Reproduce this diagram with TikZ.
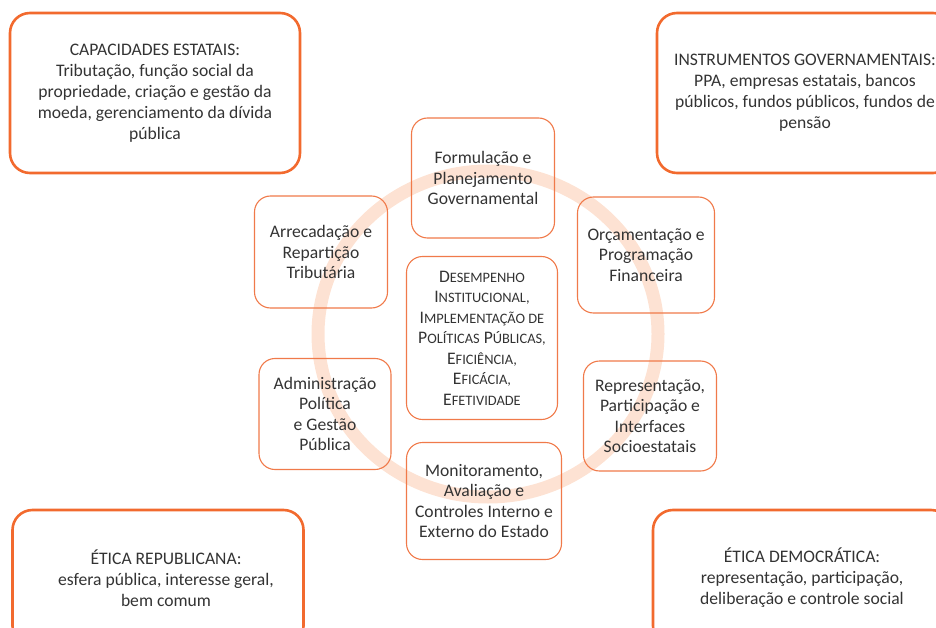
\documentclass[tikz,border=0pt]{standalone}
\usepackage{fontspec}
\setmainfont{Carlito}
\definecolor{rimorange}{HTML}{F26A2E}
\definecolor{boxorange}{HTML}{F07A4A}
\definecolor{ringpeach}{HTML}{FDE2D3}
\definecolor{txtgray}{HTML}{333333}
\newcommand\fsc[2]{{\fontsize{17.6}{20.8}\selectfont #1}{\fontsize{14.4}{16}\selectfont #2}}
\begin{document}
\begin{tikzpicture}[x=1pt,y=-1pt,
  outerbox/.style={draw=rimorange, line width=2.6pt, rounded corners=20pt},
  bodytext/.style={align=center, text=txtgray, font=\fontsize{17.6}{21}\selectfont},
  innerbox/.style={draw=boxorange, line width=1.1pt, rounded corners=16pt,
    align=center, text=txtgray, font=\fontsize{17.6}{20.5}\selectfont},
  ring/.style={draw=ringpeach, line width=13pt}]
\useasboundingbox (0,0) rectangle (936,628);
\draw [ring] (488,334) ellipse [x radius=170pt, y radius=163pt];
% four corners
\node [outerbox, bodytext, minimum width=290pt, minimum height=160pt] (capac) at (155,93)
  {CAPACIDADES ESTATAIS:\\Tributação, função social da\\propriedade, criação e gestão da\\moeda, gerenciamento da dívida\\pública};
\node [outerbox, bodytext, minimum width=296pt, minimum height=160pt] (instr) at (805,93)
  {INSTRUMENTOS GOVERNAMENTAIS:\\PPA, empresas estatais, bancos\\públicos, fundos públicos, fundos de\\pensão};
\node [outerbox, minimum width=291pt, minimum height=136pt] (repubbox) at (158,578) {};
\node [bodytext] (repub) at (166,578)
  {ÉTICA REPUBLICANA:\\esfera pública, interesse geral,\\bem comum};
\node [outerbox, bodytext, minimum width=298pt, minimum height=136pt] (democ) at (802,578)
  {ÉTICA DEMOCRÁTICA:\\representação, participação,\\deliberação e controle social};
% ring of functions
\node [innerbox, minimum width=143pt, minimum height=120pt] (formul) at (483,178)
  {Formulação e\\Planejamento\\Governamental};
\node [innerbox, minimum width=133pt, minimum height=112pt] (arrec) at (321,252)
  {Arrecadação e\\Repartição\\Tributária};
\node [innerbox, minimum width=137pt, minimum height=116pt] (orcam) at (646,255)
  {Orçamentação e\\Programação\\Financeira};
\node [innerbox, minimum width=132pt, minimum height=111pt] (admin) at (325,414)
  {Administração\\Política\\e Gestão\\Pública};
\node [innerbox, minimum width=133pt, minimum height=110pt] (repres) at (650,416)
  {Representação,\\Participação e\\Interfaces\\Socioestatais};
\node [innerbox, minimum width=155pt, minimum height=117pt] (monit) at (484,501)
  {Monitoramento,\\Avaliação e\\Controles Interno e\\Externo do Estado};
\node [innerbox, inner xsep=1pt, minimum width=151pt, minimum height=163pt] (desemp) at (482,338)
  {\fsc{D}{ESEMPENHO}\\\fsc{I}{NSTITUCIONAL,}\\\fsc{I}{MPLEMENTAÇÃO DE}\\\fsc{P}{OLÍTICAS} \fsc{P}{ÚBLICAS,}\\\fsc{E}{FICIÊNCIA,}\\\fsc{E}{FICÁCIA,}\\\fsc{E}{FETIVIDADE}};
\end{tikzpicture}
\end{document}
